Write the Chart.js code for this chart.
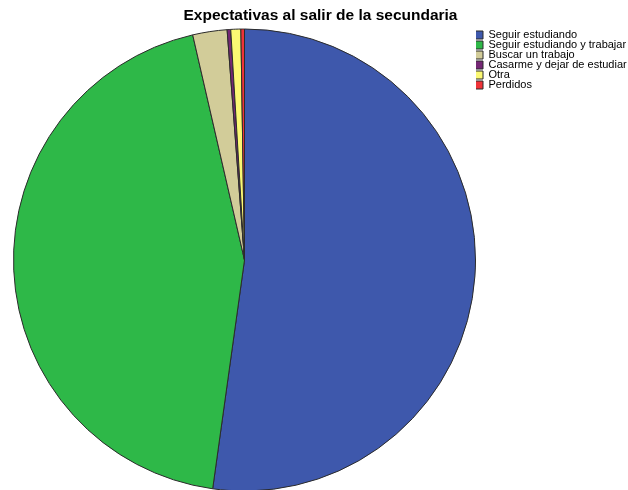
<!DOCTYPE html>
<html>
<head>
<meta charset="utf-8">
<script src="https://cdn.jsdelivr.net/npm/chart.js@4.4.0/dist/chart.umd.min.js"></script>
<style>
    html, body { margin: 0; padding: 0; background: #fff; overflow: hidden; }
    #wrap { width: 628px; height: 490px; position: relative; }
</style>
</head>
<body>
<div id="wrap"><canvas id="pie"></canvas></div>
<script>
// --- DATA ---
const categories = [
    'Seguir estudiando',
    'Seguir estudiando y trabajar',
    'Buscar un trabajo',
    'Casarme y dejar de estudiar',
    'Otra',
    'Perdidos'
];
const percentages = [52.2, 44.2, 2.4, 0.25, 0.7, 0.25];
const sliceColors = ['#3e58ac', '#2eb848', '#d2cc99', '#742774', '#fbf873', '#ef3338'];

const chartTitle = 'Expectativas al salir de la secundaria';

// SPSS-ish look
Chart.defaults.font.family = '"Liberation Sans", Arial, sans-serif';
Chart.defaults.color = '#000';

const ctx = document.getElementById('pie').getContext('2d');
const myChart = new Chart(ctx, {
    type: 'pie',
    data: {
        labels: categories,
        datasets: [{
            data: percentages,
            backgroundColor: sliceColors,
            borderColor: '#2b2b2b',
            borderWidth: 1,
            radius: 231,
            clip: false
        }]
    },
    options: {
        responsive: true,
        maintainAspectRatio: false,
        animation: false,
        layout: { padding: { left: 13, right: 0, top: 0, bottom: 0 } },
        plugins: {
            tooltip: { enabled: false },
            title: {
                display: true,
                text: chartTitle,
                font: { size: 15.5, weight: 'bold', lineHeight: 1.2 },
                padding: { top: 6.2, bottom: 5.2 }
            },
            legend: {
                position: 'right',
                align: 'start',
                maxWidth: 152,
                title: { display: true, text: ' ', font: { size: 10, lineHeight: 1 }, padding: { top: 20.5, bottom: 0 } },
                labels: {
                    boxWidth: 8,
                    boxHeight: 8,
                    padding: -1,
                    font: { size: 11 }
                }
            }
        }
    }
});
</script>
</body>
</html>
